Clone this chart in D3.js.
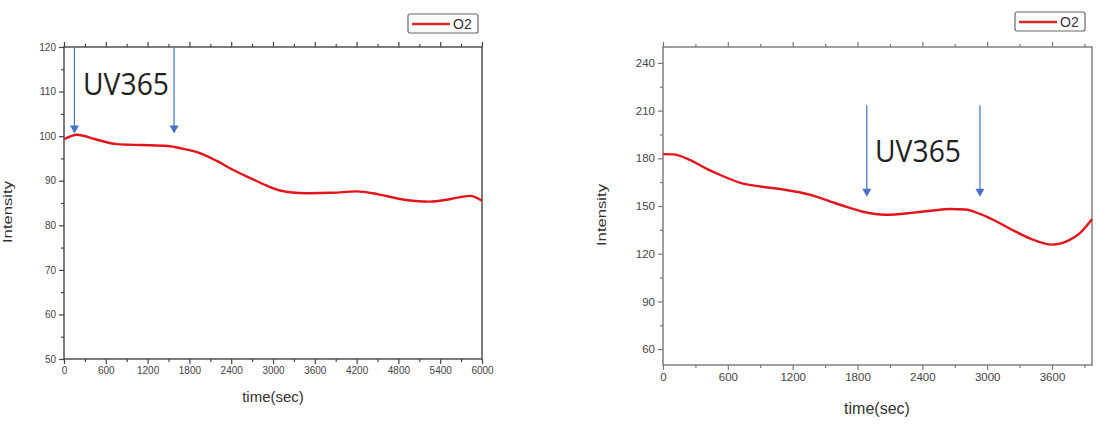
<!DOCTYPE html>
<html>
<head>
<meta charset="utf-8">
<script src="https://cdn.jsdelivr.net/npm/d3@7"></script>
<style>
  body { margin: 0; background: #fff; }
  svg { display: block; font-family: "Liberation Sans", Arial, sans-serif; }
</style>
</head>
<body>
<div class="svg-container"></div>
<script>
// left panel data (time in sec, O2 intensity)
var leftTime = [0, 190, 450, 760, 1100, 1490, 1700, 1950, 2200, 2430, 2700, 2910, 3100, 3240, 3500, 3860, 4200, 4500, 4820, 5250, 5550, 5830, 6000];
var leftO2   = [99.3, 100.3, 99.3, 98.2, 98.0, 97.8, 97.2, 96.2, 94.4, 92.4, 90.4, 88.9, 87.8, 87.4, 87.2, 87.3, 87.6, 87.0, 85.9, 85.3, 85.9, 86.6, 85.5];
var leftXTicks = [0, 600, 1200, 1800, 2400, 3000, 3600, 4200, 4800, 5400, 6000];
var leftYTicks = [50, 60, 70, 80, 90, 100, 110, 120];
var leftArrows = [150, 1580];

// right panel data
var rightTime = [0, 95, 252, 400, 530, 715, 900, 1085, 1390, 1550, 1700, 1850, 2055, 2315, 2500, 2657, 2800, 2933, 3100, 3240, 3400, 3600, 3750, 3858, 3970];
var rightO2   = [182.6, 182.5, 178.9, 173.5, 169.5, 164.6, 162.3, 160.7, 156.5, 152.8, 149.4, 146.4, 144.5, 145.8, 147.2, 148.1, 147.8, 145.0, 139.8, 134.7, 129.5, 125.7, 128.2, 133.0, 141.7];
var rightXTicks = [0, 600, 1200, 1800, 2400, 3000, 3600];
var rightYTicks = [60, 90, 120, 150, 180, 210, 240];
var rightArrows = [1886, 2933];

var svg = d3.select(".svg-container").append("svg")
    .attr("width", 1096)
    .attr("height", 424);

function drawPanel(p) {
    var x = d3.scaleLinear().domain(p.xDomain).range([p.left, p.right]);
    var y = d3.scaleLinear().domain(p.yDomain).range([p.bottom, p.top]);
    var g = svg.append("g");
    var w = p.right - p.left, h = p.bottom - p.top;

    // minor ticks
    var xMinor = d3.range(p.xDomain[0] + p.xStep / 2, p.xDomain[1], p.xStep);
    var yMinor = d3.range(p.yTicks[0] - p.yStep / 2, p.yDomain[1], p.yStep).filter(function(v) { return v > p.yDomain[0]; });

    g.append("g").attr("transform", "translate(0," + p.bottom + ")")
        .call(d3.axisBottom(x).tickValues(xMinor).tickSize(3).tickFormat(""));
    g.append("g").attr("transform", "translate(0," + p.top + ")")
        .call(d3.axisTop(x).tickValues(xMinor).tickSize(3).tickFormat(""));
    g.append("g").attr("transform", "translate(" + p.left + ",0)")
        .call(d3.axisLeft(y).tickValues(yMinor).tickSize(3).tickFormat(""));

    // major axes
    g.append("g").attr("transform", "translate(0," + p.bottom + ")")
        .call(d3.axisBottom(x).tickValues(p.xTicks).tickSize(5).tickPadding(3).tickFormat(d3.format("d")));
    g.append("g").attr("transform", "translate(0," + p.top + ")")
        .call(d3.axisTop(x).tickValues(p.xTicks).tickSize(5).tickFormat(""));
    g.append("g").attr("transform", "translate(" + p.left + ",0)")
        .call(d3.axisLeft(y).tickValues(p.yTicks).tickSize(5).tickPadding(3).tickFormat(d3.format("d")));

    g.selectAll(".domain").remove();
    g.selectAll(".tick line").attr("stroke", p.axisColor).attr("stroke-width", 1.2);
    g.selectAll(".tick text").attr("fill", "#444").style("font-size", p.tickFont + "px");

    g.append("rect")
        .attr("x", p.left).attr("y", p.top)
        .attr("width", w).attr("height", h)
        .attr("fill", "none")
        .attr("stroke", p.axisColor)
        .attr("stroke-width", 1.4);

    // curve
    var line = d3.line()
        .x(function(d, i) { return x(p.t[i]); })
        .y(function(d) { return y(d); })
        .curve(d3.curveMonotoneX);
    g.append("path")
        .datum(p.v)
        .attr("d", line)
        .attr("fill", "none")
        .attr("stroke", "#e3151c")
        .attr("stroke-width", 2.4);

    // UV arrows
    var blue = "#4472c4";
    p.arrows.forEach(function(t) {
        var ax = x(t), y0 = y(p.arrowTop), y1 = y(p.arrowBottom);
        g.append("line")
            .attr("x1", ax).attr("x2", ax)
            .attr("y1", y0).attr("y2", y1 - 7)
            .attr("stroke", blue).attr("stroke-width", 1.2);
        g.append("path")
            .attr("d", "M" + (ax - 4.5) + "," + (y1 - 8) + "L" + (ax + 4.5) + "," + (y1 - 8) + "L" + ax + "," + y1 + "Z")
            .attr("fill", blue);
    });

    g.append("text")
        .attr("x", p.uvX).attr("y", p.uvY)
        .attr("font-family", "'Open Sans', 'Noto Sans', sans-serif")
        .attr("font-size", 31)
        .attr("textLength", 86)
        .attr("lengthAdjust", "spacingAndGlyphs")
        .attr("fill", "#222")
        .text("UV365");

    // axis titles
    g.append("text")
        .attr("x", (p.left + p.right) / 2 + p.xTitleDx).attr("y", p.xTitleY)
        .attr("text-anchor", "middle")
        .attr("font-size", p.titleFont)
        .attr("fill", "#333")
        .text("time(sec)");
    g.append("text")
        .attr("transform", "translate(" + p.yTitleX + "," + p.yTitleY + ") rotate(-90)")
        .attr("text-anchor", "middle")
        .attr("font-size", 13)
        .attr("textLength", 62)
        .attr("lengthAdjust", "spacingAndGlyphs")
        .attr("fill", "#333")
        .text("Intensity");

    // legend
    var lg = g.append("g").attr("transform", "translate(" + p.legX + "," + p.legY + ")");
    lg.append("rect")
        .attr("width", 70).attr("height", 19).attr("rx", 2)
        .attr("fill", "#fff").attr("stroke", "#666").attr("stroke-width", 1.2);
    lg.append("line")
        .attr("x1", 4).attr("x2", 42).attr("y1", 10).attr("y2", 10)
        .attr("stroke", "#d42a2a").attr("stroke-width", 2.4);
    lg.append("text")
        .attr("x", 45).attr("y", 15)
        .attr("font-size", 14)
        .attr("fill", "#333")
        .text("O2");
}

drawPanel({
    t: leftTime, v: leftO2,
    xDomain: [0, 6000], yDomain: [50, 120],
    xTicks: leftXTicks, yTicks: leftYTicks, xStep: 600, yStep: 10,
    left: 64, right: 482, top: 47, bottom: 359,
    axisColor: "#444", tickFont: 10, titleFont: 15,
    arrows: leftArrows, arrowTop: 120, arrowBottom: 100.6,
    uvX: 83, uvY: 95,
    xTitleDx: 0, xTitleY: 402,
    yTitleX: 12, yTitleY: 212,
    legX: 408, legY: 14
});

drawPanel({
    t: rightTime, v: rightO2,
    xDomain: [0, 3970], yDomain: [50, 250],
    xTicks: rightXTicks, yTicks: rightYTicks, xStep: 600, yStep: 30,
    left: 663, right: 1092, top: 47, bottom: 365,
    axisColor: "#777", tickFont: 11.5, titleFont: 16,
    arrows: rightArrows, arrowTop: 213.4, arrowBottom: 155.8,
    uvX: 875, uvY: 162,
    xTitleDx: -0.5, xTitleY: 414,
    yTitleX: 606, yTitleY: 215,
    legX: 1015, legY: 12
});
</script>
</body>
</html>
